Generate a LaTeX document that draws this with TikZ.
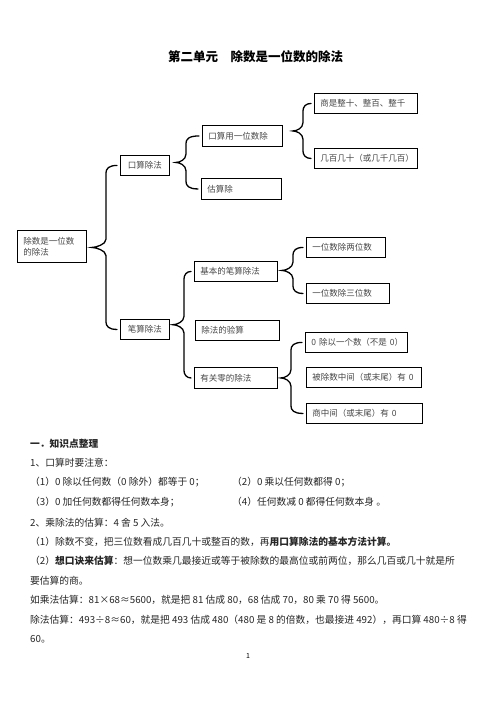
\documentclass[tikz,border=0pt]{standalone}
\usepackage{fontspec}
\setmainfont{Noto Sans CJK SC}
\usetikzlibrary{calc}
\tikzset{
  box/.style={draw=black, line width=0.9pt, anchor=north west, inner xsep=6pt, inner ysep=0pt,
    font=\fontsize{8.5}{11}\selectfont, text=black!72, align=left},
  cbox/.style={box, align=center},
  bracestyle/.style={line width=1.3pt, line cap=round},
  txt/.style={anchor=base west, inner sep=0pt, font=\fontsize{9.75}{12}\selectfont, text=black!85},
}
% parent, top child, bottom child, tip gap, vertical gap
\newcommand\mybrace[5]{%
  \draw[bracestyle] let \p1=([xshift=#4pt]#1.east), \p4=([xshift=#5pt]#1.east),
    \p2=(#2.west), \p3=(#3.west), \p6=($(#2.west)!0.5!(#3.west)$) in
    ({\x2-3pt},\y2) .. controls ({\x4+3pt},\y2) and (\x4,{\y2-3pt}) .. (\x4,{\y2-8pt})
    -- (\x4,{\y6+8pt}) .. controls (\x4,{\y6+3pt}) and ({\x1+4pt},\y6) .. (\x1,\y6)
    .. controls ({\x1+4pt},\y6) and (\x4,{\y6-3pt}) .. (\x4,{\y6-8pt})
    -- (\x4,{\y3+8pt}) .. controls (\x4,{\y3+3pt}) and ({\x4+3pt},\y3) .. ({\x3-3pt},\y3);}
\begin{document}
\begin{tikzpicture}[x=1pt,y=-1pt]
\useasboundingbox[fill=white] (0,0) rectangle (496,702);

\node[anchor=base, inner sep=0pt, font=\fontsize{12.5}{14}\selectfont\bfseries] (title) at (255.5,61.5)
  {第二单元\hspace{12.5pt}除数是一位数的除法};

% boxes
\node[box, minimum width=69pt, minimum height=32pt, text width=57pt] (A) at (17,230) {除数是一位数\\的除法};
\node[cbox, minimum width=49pt, minimum height=20pt, text width=37pt] (B) at (120,155) {口算除法};
\node[cbox, minimum width=49pt, minimum height=20pt, text width=37pt] (P) at (120,319) {笔算除法};
\node[box, minimum width=80pt, minimum height=21pt, text width=68pt] (C) at (202,125) {口算用一位数除};
\node[box, minimum width=80pt, minimum height=21pt, text width=68pt] (D) at (201,178) {估算除};
\node[box, minimum width=103pt, minimum height=20pt, text width=91pt] (E) at (314,93) {商是整十、整百、整千};
\node[box, minimum width=103pt, minimum height=20pt, text width=91pt] (F) at (314,148) {几百几十（或几千几百）};
\node[box, minimum width=83pt, minimum height=20pt, text width=71pt] (I) at (194,261) {基本的笔算除法};
\node[box, minimum width=84pt, minimum height=20pt, text width=72pt] (J) at (195,320) {除法的验算};
\node[box, minimum width=83pt, minimum height=21pt, text width=71pt] (K) at (194,367) {有关零的除法};
\node[box, minimum width=79pt, minimum height=20pt, text width=67pt] (G) at (306,237) {一位数除两位数};
\node[box, minimum width=83pt, minimum height=20pt, text width=71pt] (H) at (306,283) {一位数除三位数};
\node[box, minimum width=102pt, minimum height=20pt, text width=90pt] (L) at (305,332) {\mbox{0 除以一个数（不是 0）}};
\node[box, minimum width=115pt, minimum height=20pt, text width=103pt] (M) at (306,367) {\mbox{被除数中间（或末尾）有 0}};
\node[box, minimum width=116pt, minimum height=20pt, text width=104pt] (N) at (306,403) {\mbox{商中间（或末尾）有 0}};

% braces
\mybrace{A}{B}{P}{5}{19}
\mybrace{B}{C}{D}{6}{16}
\mybrace{C}{E}{F}{10}{20}
\mybrace{P}{I}{K}{3}{14}
\mybrace{I}{G}{H}{4}{15}
\mybrace{K}{L}{N}{3}{13}

% text
\node[txt, font=\fontsize{9.75}{12}\selectfont\bfseries] (t1) at (30,447.7) {一．知识点整理};
\node[txt] (t2) at (30,466.7) {1、口算时要注意：};
\node[txt] (t3a) at (30,485.7) {（1）0 除以任何数（0 除外）都等于 0；};
\node[txt] (t3b) at (232,485.7) {（2）0 乘以任何数都得 0；};
\node[txt] (t4a) at (30,505.7) {（3）0 加任何数都得任何数本身；};
\node[txt] (t4b) at (232,505.7) {（4）任何数减 0 都得任何数本身 。};
\node[txt] (t5) at (30,526.7) {2、乘除法的估算：4 舍 5 入法。};
\node[txt] (t6) at (30,545.7) {（1）除数不变，把三位数看成几百几十或整百的数，再\textbf{用口算除法的基本方法计算。}};
\node[txt] (t7) at (30,564.7) {（2）\textbf{想口诀来估算}：想一位数乘几最接近或等于被除数的最高位或前两位，那么几百或几十就是所};
\node[txt] (t8) at (30,584.7) {要估算的商。};
\node[txt] (t9) at (30,603.7) {如乘法估算：81×68≈5600，就是把 81 估成 80，68 估成 70，80 乘 70 得 5600。};
\node[txt] (t10) at (30,623.7) {除法估算：493÷8≈60，就是把 493 估成 480（480 是 8 的倍数，也最接进 492），再口算 480÷8 得};
\node[txt] (t11) at (30,642.7) {60。};
\node[anchor=base, inner sep=0pt, font=\fontsize{7}{8}\selectfont] (pg) at (248,658) {1};
\end{tikzpicture}
\end{document}
